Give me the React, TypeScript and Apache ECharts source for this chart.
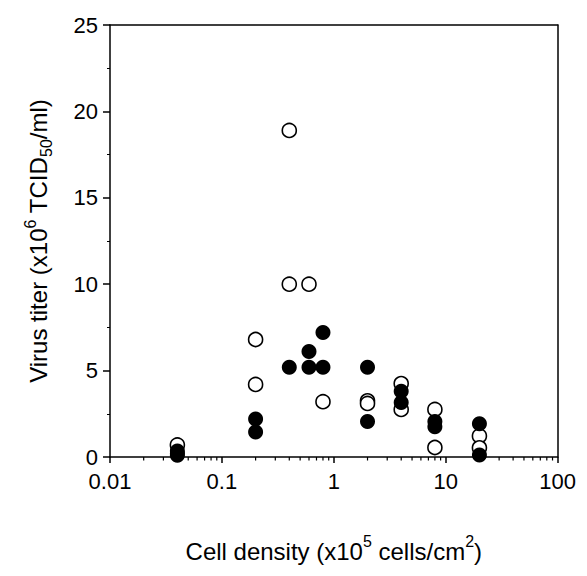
import React, { useEffect, useRef } from "react";
import * as echarts from "echarts";

// Cell density (x10^5 cells/cm^2) and virus titer (x10^6 TCID50/ml)
const openX = [0.04, 0.2, 0.2, 0.4, 0.4, 0.6, 0.8, 2, 2, 4, 4, 8, 8, 20, 20];
const openY = [0.7, 6.8, 4.2, 18.9, 10, 10, 3.2, 3.25, 3.1, 4.25, 2.75, 2.75, 0.55, 1.22, 0.53];
const filledX = [0.04, 0.04, 0.04, 0.2, 0.2, 0.4, 0.6, 0.6, 0.8, 0.8, 2, 2, 4, 4, 8, 8, 20, 20];
const filledY = [0.35, 0.2, 0.1, 2.2, 1.45, 5.2, 6.1, 5.2, 7.2, 5.2, 5.2, 2.05, 3.8, 3.15, 2.05, 1.75, 1.92, 0.12];
const xMin = 0.01;
const xMax = 100;
const yTicks = [0, 5, 10, 15, 20, 25];
// minor tick positions of the log axis (2..9 within each decade)
const xMinorTicks = [
  0.02, 0.03, 0.04, 0.05, 0.06, 0.07, 0.08, 0.09,
  0.2, 0.3, 0.4, 0.5, 0.6, 0.7, 0.8, 0.9,
  2, 3, 4, 5, 6, 7, 8, 9,
  20, 30, 40, 50, 60, 70, 80, 90,
];

const FONT = "Liberation Sans, Arial, sans-serif";

export default function App() {
  const ref = useRef<HTMLDivElement>(null);
  useEffect(() => {
    if (!ref.current) return;
    const chart = echarts.init(ref.current, null, { renderer: "svg" });
    const axisLine = { show: true, onZero: false, lineStyle: { color: "#000", width: 1.5 } };
    chart.setOption({
      animation: false,
      backgroundColor: "#fff",
      grid: { left: 102, right: 16, top: 17, bottom: 89 },
      xAxis: [
        {
          type: "log",
          logBase: 10,
          min: xMin,
          max: xMax,
          position: "bottom",
          axisLine,
          axisTick: { show: true, inside: false, length: 6, lineStyle: { color: "#000", width: 1.5 } },
          axisLabel: {
            color: "#000",
            fontSize: 22,
            fontFamily: FONT,
            margin: 13,
            formatter: (v: number) => String(Number(v.toPrecision(3))),
          },
          splitLine: { show: false },
          name: "{a|Cell density (x10}{sup|5}{a| cells/cm}{sup|2}{a|)}",
          nameLocation: "middle",
          nameGap: 76,
          nameTextStyle: {
            rich: {
              a: { fontSize: 24, fontFamily: FONT, color: "#000", lineHeight: 30, verticalAlign: "bottom" },
              sup: { fontSize: 16, fontFamily: FONT, color: "#000", lineHeight: 30, verticalAlign: "top" },
            },
          },
        },
        {
          type: "log",
          logBase: 10,
          min: xMin,
          max: xMax,
          position: "top",
          axisLine,
          axisTick: { show: false },
          axisLabel: { show: false },
          splitLine: { show: false },
        },
      ],
      yAxis: [
        {
          type: "value",
          min: 0,
          max: 25,
          interval: 5,
          position: "left",
          axisLine,
          axisTick: { show: true, inside: false, length: 7, lineStyle: { color: "#000", width: 1.5 } },
          minorTick: { show: true, splitNumber: 2, length: 3, lineStyle: { color: "#000", width: 1 } },
          axisLabel: {
            color: "#000",
            fontSize: 22,
            fontFamily: FONT,
            margin: 12,
            formatter: (v: number) => (yTicks.includes(v) ? String(v) : ""),
          },
          splitLine: { show: false },
          name: "{a|Virus titer (x10}{sup|6}{a| TCID}{sub|50}{a|/ml)}",
          nameLocation: "middle",
          nameRotate: 90,
          nameGap: 56,
          nameTextStyle: {
            rich: {
              a: { fontSize: 24, fontFamily: FONT, color: "#000", lineHeight: 32, verticalAlign: "middle" },
              sup: { fontSize: 16, fontFamily: FONT, color: "#000", lineHeight: 32, verticalAlign: "top" },
              sub: { fontSize: 16, fontFamily: FONT, color: "#000", lineHeight: 32, verticalAlign: "bottom" },
            },
          },
        },
        {
          type: "value",
          min: 0,
          max: 25,
          interval: 5,
          position: "right",
          axisLine,
          axisTick: { show: false },
          minorTick: { show: false },
          axisLabel: { show: false },
          splitLine: { show: false },
        },
      ],
      series: [
        {
          type: "custom",
          silent: true,
          xAxisIndex: 0,
          yAxisIndex: 0,
          data: xMinorTicks.map((v) => [v, 0]),
          renderItem: (_params: any, api: any) => {
            const p = api.coord([api.value(0), 0]);
            return {
              type: "line",
              shape: { x1: p[0], y1: p[1], x2: p[0], y2: p[1] + 3.5 },
              style: { stroke: "#000", lineWidth: 1.2 },
            };
          },
          z: 1,
        },
        {
          type: "scatter",
          name: "open",
          data: openX.map((x, i) => [x, openY[i]]),
          symbol: "circle",
          symbolSize: 14,
          itemStyle: { color: "#fff", borderColor: "#000", borderWidth: 1.6, opacity: 1 },
          clip: false,
          z: 2,
        },
        {
          type: "scatter",
          name: "filled",
          data: filledX.map((x, i) => [x, filledY[i]]),
          symbol: "circle",
          symbolSize: 15,
          itemStyle: { color: "#000", borderColor: "#000", borderWidth: 0, opacity: 1 },
          clip: false,
          z: 3,
        },
      ],
    });
    return () => chart.dispose();
  }, []);
  return <div ref={ref} style={{ width: 571, height: 560 }} />;
}
